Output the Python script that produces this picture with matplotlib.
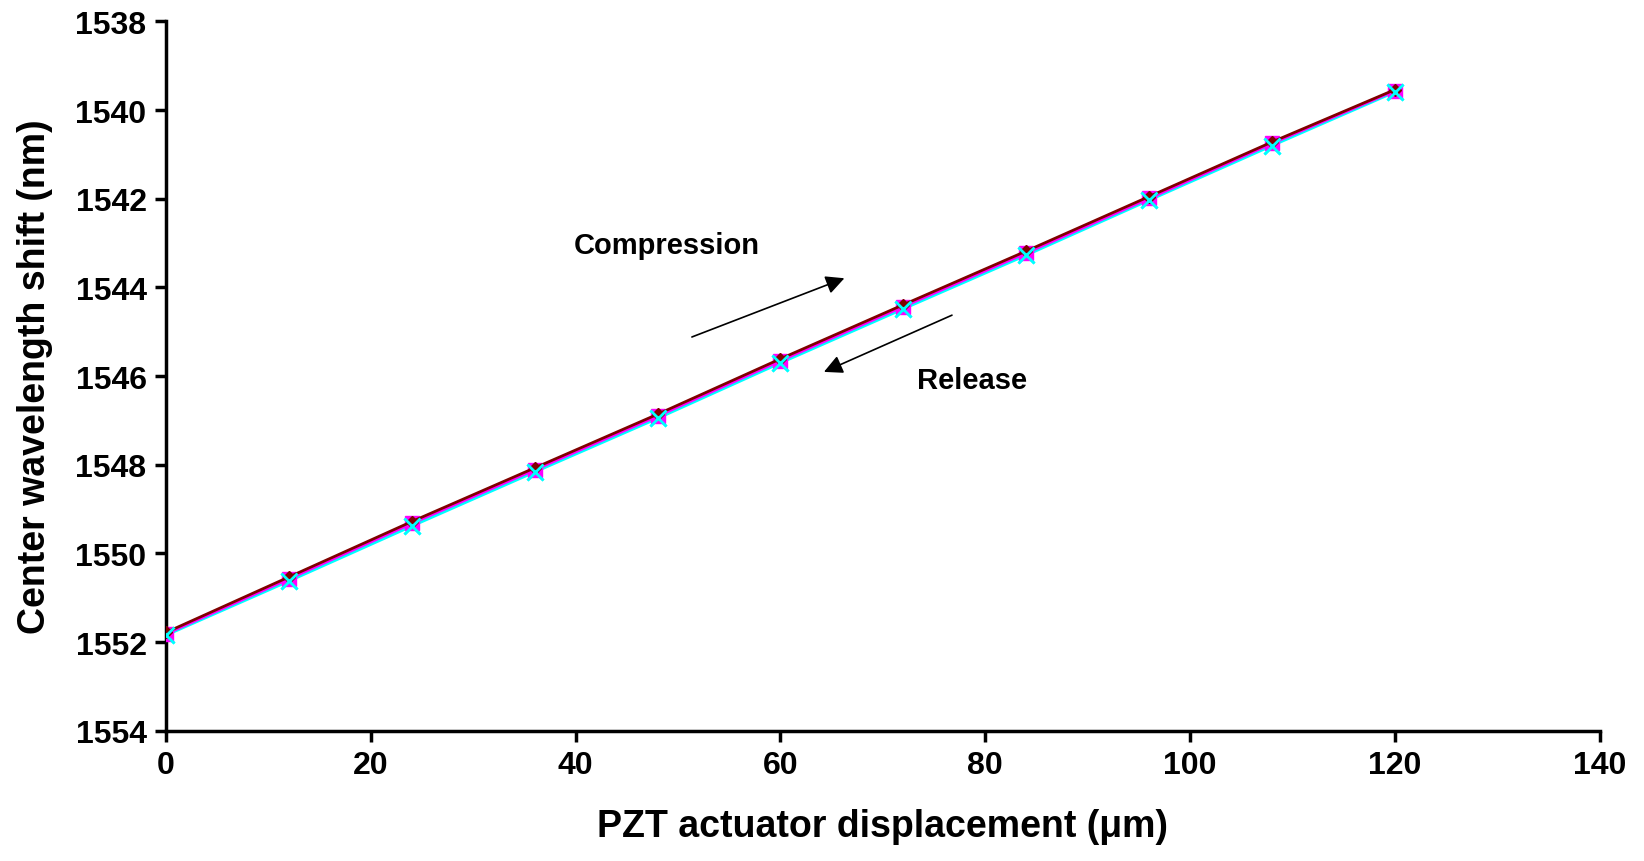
import matplotlib
matplotlib.use('Agg')
import matplotlib.pyplot as plt

# PZT displacement (um)
displacement = [0, 12, 24, 36, 48, 60, 72, 84, 96, 108, 120]

# center wavelength (nm)
compression = [1551.78, 1550.53, 1549.28, 1548.07, 1546.86, 1545.61,
               1544.39, 1543.18, 1541.95, 1540.72, 1539.54]
release_1 = [1551.81, 1550.57, 1549.32, 1548.11, 1546.90, 1545.65,
             1544.43, 1543.22, 1541.99, 1540.75, 1539.56]
release_2 = [1551.84, 1550.62, 1549.38, 1548.16, 1546.95, 1545.70,
             1544.48, 1543.27, 1542.03, 1540.80, 1539.59]

plt.rcParams['font.family'] = ['Liberation Sans', 'DejaVu Sans']
plt.rcParams['font.weight'] = 'bold'

fig = plt.figure(figsize=(16.44, 8.62), dpi=100)
ax = fig.add_axes([0.101, 0.151, 0.872, 0.823])

ax.plot(displacement, release_2, color='cyan', lw=2.2, marker='x',
        ms=11, mew=2, zorder=2)
ax.plot(displacement, release_1, color='magenta', lw=2.2, marker='s',
        ms=10, zorder=3)
ax.plot(displacement, compression, color='#800000', lw=2, marker='D',
        ms=6, zorder=4)
# redraw x on top so it shows over the squares
ax.plot(displacement, release_2, color='cyan', lw=0, marker='x',
        ms=11, mew=2, zorder=5)

ax.annotate('', xy=(66.5, 1543.77), xytext=(51.1, 1545.14),
            arrowprops=dict(arrowstyle='-|>', color='black', lw=1.2,
                            mutation_scale=28))
ax.annotate('', xy=(64.0, 1545.93), xytext=(77.0, 1544.60),
            arrowprops=dict(arrowstyle='-|>', color='black', lw=1.2,
                            mutation_scale=28))
ax.text(48.9, 1543.05, 'Compression', fontsize=21, fontweight='bold',
        ha='center', va='center')
ax.text(78.7, 1546.09, 'Release', fontsize=21, fontweight='bold',
        ha='center', va='center')

ax.set_xlim(0, 140)
ax.set_ylim(1554, 1538)
ax.set_xticks(range(0, 141, 20))
ax.set_yticks(range(1538, 1555, 2))
ax.spines['top'].set_visible(False)
ax.spines['right'].set_visible(False)
ax.spines['left'].set_linewidth(2.5)
ax.spines['bottom'].set_linewidth(2.5)
ax.tick_params(direction='out', length=8, width=2.5, labelsize=23, pad=6)
for lab in ax.get_xticklabels() + ax.get_yticklabels():
    lab.set_fontweight('bold')

ax.set_xlabel('PZT actuator displacement (\u03bcm)', fontsize=27,
              fontweight='bold', labelpad=20)
ax.set_ylabel('Center wavelength shift (nm)', fontsize=27,
              fontweight='bold', labelpad=16)

plt.savefig('out.png', dpi=100)
